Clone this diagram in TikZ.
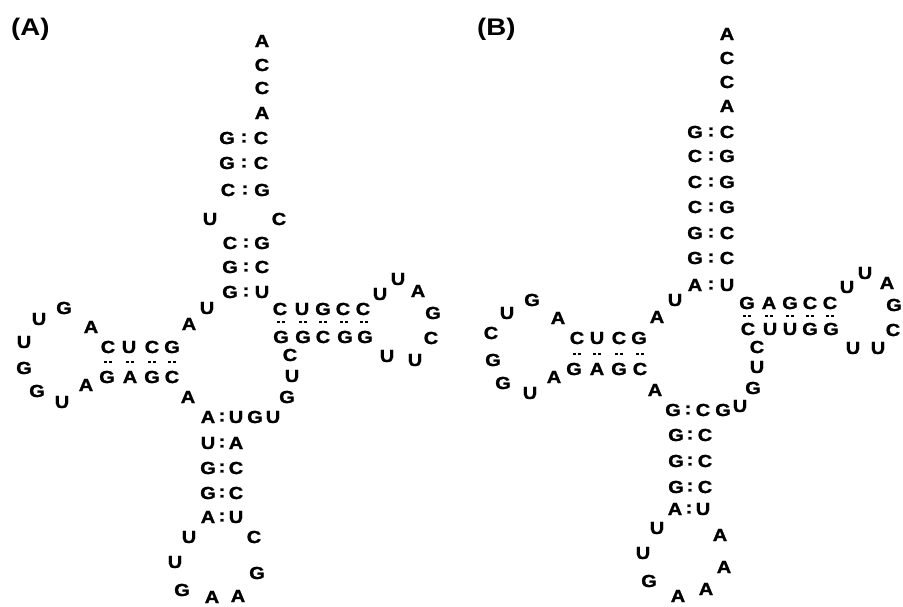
\documentclass[tikz,border=0pt]{standalone}
\usepackage{fontspec}
\newfontfamily\ntfont{Liberation Sans}[FakeStretch=1.15, BoldFeatures={FakeStretch=1.15, FakeBold=1.2}]
\newfontfamily\lblfont{Liberation Sans}[BoldFeatures={FakeStretch=1.15}]
\newcommand\pairdots[2]{\fill (#1-3.9,#2-1.3) rectangle ++(2.7,2.7); \fill (#1+1.2,#2-1.3) rectangle ++(2.7,2.7);}
\begin{document}
\begin{tikzpicture}[x=1pt,y=-1pt,
  nt/.style={font=\ntfont\bfseries\fontsize{17.5}{17.5}\selectfont, inner sep=0pt, anchor=center},
  lbl/.style={font=\lblfont\bfseries\fontsize{24}{24}\selectfont, inner sep=0pt, anchor=base west}]
\useasboundingbox (0,0) rectangle (903,606);
\clip (0,0) rectangle (903,606);
\fill[white] (0,0) rectangle (903,606);
\node[lbl] (labA) at (11,35) {(A)};
\node[lbl] (labB) at (477,35) {(B)};
% Panel A
\foreach \x/\y/\t [count=\i] in {
 262/41/A, 262/65/C, 262/88/C, 262/113/A,
 227/138/G, 244/138/:, 261/138/C,
 227/163/G, 244/163/:, 261/163/C,
 228/190/C, 245/190/:, 262/190/G,
 210/219/U, 279/219/C,
 230/243/C, 246/243/:, 262/243/G,
 230/267/G, 246/267/:, 262/267/C,
 230/292/G, 246/292/:, 262/292/U,
 207/308/U, 189/324/A,
 108/347/C, 129/347/U, 152/347/C, 172/347/G,
 107/377/G, 130/377/A, 152/377/G, 172/377/C, 188/397/A,
 91/327/A, 64/308/G, 39/319/U, 24/342/U, 24/368/G, 37/391/G, 62/402/U, 86/385/A,
 280/309/C, 302/309/U, 323/309/G, 343/309/C, 363/309/C,
 281/337/G, 303/337/G, 323/337/C, 345/337/G, 365/337/G,
 380/294/U, 398/279/U, 418/291/A, 433/313/G, 431/338/C, 415/360/U, 387/356/U,
 290/355/C, 292/376/U, 287/397/G, 273/417/U, 255/417/G,
 208/417/A, 222/417/:, 236/417/U,
 208/443/U, 222/443/:, 236/443/A,
 208/468/G, 222/468/:, 236/468/C,
 208/493/G, 222/493/:, 236/493/C,
 208/517/A, 222/517/:, 236/517/U,
 189/537/U, 254/537/C, 175/562/U, 257/573/G, 182/590/G, 212/597/A, 238/596/A}
 \node[nt] (a\i) at (\x,\y) {\t};
\foreach \x in {108,130,152,172} {\pairdots{\x}{362}}
\foreach \x in {281,303,323,344,364} {\pairdots{\x}{322}}
% Panel B
\foreach \x/\y/\t [count=\i] in {
 727/34/A, 727/58/C, 727/82/C, 727/106/A,
 695/132/G, 711/132/:, 727/132/C,
 695/156/C, 711/156/:, 727/156/G,
 695/182/C, 711/182/:, 727/182/G,
 695/207/C, 711/207/:, 727/207/G,
 695/233/G, 711/233/:, 727/233/C,
 695/258/G, 711/258/:, 727/258/C,
 695/285/A, 711/285/:, 727/285/U,
 675/300/U, 657/317/A,
 577/338/C, 597/338/U, 619/338/C, 639/338/G,
 574/369/G, 597/369/A, 619/369/G, 640/369/C, 655/390/A,
 558/318/A, 532/300/G, 507/313/U, 491/333/C, 493/360/G, 503/383/G, 530/393/U, 554/377/A,
 747/303/G, 769/303/A, 790/303/G, 810/303/C, 830/303/C,
 748/329/C, 770/329/U, 790/329/U, 810/329/G, 831/329/G,
 847/287/U, 865/273/U, 887/283/A, 894/305/G, 893/330/C, 878/348/U, 853/348/U,
 757/347/C, 757/367/U, 753/388/G, 740/406/U, 723/410/G,
 673/410/G, 688/410/:, 703/410/C,
 676/435/G, 690/435/:, 705/435/C,
 676/461/G, 690/461/:, 705/461/C,
 676/487/G, 690/487/:, 705/487/C,
 675/509/A, 689/509/:, 703/509/U,
 657/528/U, 720/535/A, 643/553/U, 724/567/A, 649/581/G, 678/596/A, 706/589/A}
 \node[nt] (b\i) at (\x,\y) {\t};
\foreach \x in {577,597,619,640} {\pairdots{\x}{354}}
\foreach \x in {747,769,790,810,830} {\pairdots{\x}{316}}
\end{tikzpicture}
\end{document}
